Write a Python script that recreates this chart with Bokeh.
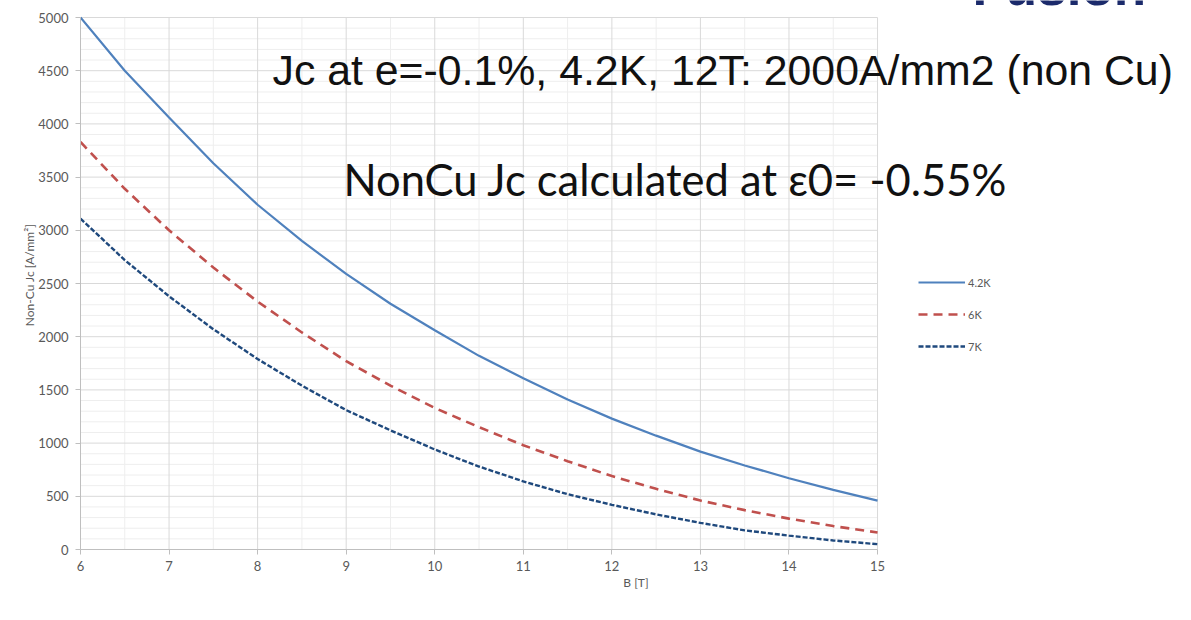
from bokeh.plotting import figure
from bokeh.models import Legend, LegendItem, Label, FixedTicker, Range1d
from bokeh.embed import file_html
from bokeh.resources import INLINE

# --- data ---
b_field = [6, 6.5, 7, 7.5, 8, 8.5, 9, 9.5, 10, 10.5, 11, 11.5, 12, 12.5, 13, 13.5, 14, 14.5, 15]
jc_42k = [5000, 4500, 4060, 3630, 3240, 2900, 2590, 2310, 2060, 1820, 1610, 1410, 1230, 1070, 920, 790, 670, 560, 460]
jc_6k = [3830, 3390, 3000, 2650, 2330, 2040, 1770, 1540, 1330, 1150, 980, 830, 690, 570, 460, 370, 290, 220, 160]
jc_7k = [3110, 2720, 2380, 2070, 1790, 1540, 1310, 1120, 940, 780, 640, 520, 420, 330, 250, 180, 130, 85, 50]
series_names = ["4.2K", "6K", "7K"]
x_ticks = [6, 7, 8, 9, 10, 11, 12, 13, 14, 15]
x_minor = [6.5, 7.5, 8.5, 9.5, 10.5, 11.5, 12.5, 13.5, 14.5]
y_ticks = [0, 500, 1000, 1500, 2000, 2500, 3000, 3500, 4000, 4500, 5000]
y_minor = [v for v in range(0, 5001, 100) if v % 500 != 0]
title1 = "Jc at e=-0.1%, 4.2K, 12T: 2000A/mm2 (non Cu)"
title2 = "NonCu Jc calculated at \u03b50= -0.55%"
logo_text = "Fusion"

W, H = 1191, 620
X0, X1 = x_ticks[0], x_ticks[-1]
Y0, Y1 = y_ticks[0], y_ticks[-1]
px_per_x = 88.56
px_per_y = 0.1064
left_b, bottom_b = 80, 71
x_end = X0 + (W - left_b) / px_per_x
y_end = Y0 + (H - bottom_b) / px_per_y

p = figure(width=W, height=H, output_backend="svg", toolbar_location=None,
           x_range=Range1d(X0, x_end), y_range=Range1d(Y0, y_end),
           min_border_left=left_b, min_border_right=0, min_border_top=0,
           min_border_bottom=bottom_b)
p.outline_line_color = None
p.background_fill_color = "white"
p.border_fill_color = "white"
p.xgrid.visible = False
p.ygrid.visible = False

tick_color = "#595959"
for ax in (p.xaxis[0], p.yaxis[0]):
    ax.axis_line_color = "#bfbfbf"
    ax.major_tick_line_color = "#bfbfbf"
    ax.minor_tick_line_color = None
    ax.major_tick_in = 0
    ax.major_tick_out = 5
    ax.major_label_text_font = "Lato"
    ax.major_label_text_font_size = "13px"
    ax.major_label_text_color = tick_color
    ax.axis_label_text_font = "Lato"
    ax.axis_label_text_font_size = "12px"
    ax.axis_label_text_color = tick_color
    ax.axis_label_text_font_style = "normal"

p.xaxis[0].ticker = FixedTicker(ticks=x_ticks)
p.yaxis[0].ticker = FixedTicker(ticks=y_ticks)
p.xaxis[0].bounds = (X0, X1)
p.yaxis[0].bounds = (Y0, Y1)
p.xaxis[0].axis_label = "B [T]"
p.yaxis[0].axis_label = "Non-Cu Jc [A/mm\u00b2]"
p.xaxis[0].major_label_standoff = 6
p.yaxis[0].major_label_standoff = 7
p.xaxis[0].axis_label_standoff = 1
p.yaxis[0].axis_label_standoff = -2

# grid lines limited to the data area
minor_c, major_c = "#eeeeee", "#d9d9d9"
p.segment(x0=x_minor, x1=x_minor, y0=Y0, y1=Y1, line_color=minor_c, line_width=1, level="underlay")
p.segment(x0=X0, x1=X1, y0=y_minor, y1=y_minor, line_color=minor_c, line_width=1, level="underlay")
p.segment(x0=x_ticks, x1=x_ticks, y0=Y0, y1=Y1, line_color=major_c, line_width=1, level="underlay")
p.segment(x0=X0, x1=X1, y0=y_ticks, y1=y_ticks, line_color=major_c, line_width=1, level="underlay")

r1 = p.line(b_field, jc_42k, line_color="#4f81bd", line_width=2.2)
r2 = p.line(b_field, jc_6k, line_color="#c0504d", line_width=2.6, line_dash="9 6")
r3 = p.line(b_field, jc_7k, line_color="#1f497d", line_width=2.4, line_dash="5 2")

legend = Legend(items=[LegendItem(label=series_names[0], renderers=[r1]),
                       LegendItem(label=series_names[1], renderers=[r2]),
                       LegendItem(label=series_names[2], renderers=[r3])],
                location=(838, 193), orientation="vertical",
                glyph_width=47, glyph_height=20, label_height=20, spacing=12,
                padding=0, margin=0, label_standoff=3,
                label_text_font="Lato", label_text_font_size="11px",
                label_text_color=tick_color,
                border_line_color=None, background_fill_alpha=0)
p.add_layout(legend, "center")

def px_x(px):
    return X0 + (px - left_b) / px_per_x

def px_y(py):
    # labels render ~17px lower than their nominal baseline in this backend
    return Y0 + (H - bottom_b - (py - 17)) / px_per_y

p.add_layout(Label(x=px_x(272), y=px_y(86), text=title1, text_font="Liberation Sans",
                   text_font_size="42.8px", text_color="#111111", text_baseline="alphabetic"))
p.add_layout(Label(x=px_x(343), y=px_y(195), text=title2, text_font="Lato",
                   text_font_size="43.5px", text_color="#111111", text_baseline="alphabetic"))
p.add_layout(Label(x=px_x(972), y=px_y(3), text=logo_text, text_font="Liberation Sans",
                   text_font_style="bold", text_font_size="53px", text_color="#1b2a6b",
                   text_baseline="alphabetic"))

open("out.html", "w").write(file_html(p, INLINE))
